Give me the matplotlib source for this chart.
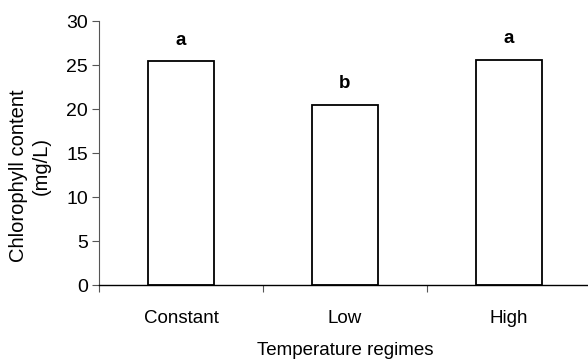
import matplotlib
matplotlib.use("Agg")
import matplotlib.pyplot as plt
import numpy as np

plt.rcParams['font.family'] = ['Liberation Sans', 'DejaVu Sans']

regimes = ["Constant", "Low", "High"]
chlorophyll = [25.45, 20.5, 25.6]
letters = ["a", "b", "a"]

W, H = 588, 362
fig = plt.figure(figsize=(W / 100, H / 100), dpi=100)
# axes spans x 99..591 px, y 21..285 px
ax = fig.add_axes([99 / W, 1 - 285 / H, 492 / W, 264 / H])

x = np.arange(len(regimes))
ax.bar(x, chlorophyll, width=0.4, color="white", edgecolor="black", linewidth=1.3)

for xi, val, lab in zip(x, chlorophyll, letters):
    ax.annotate(lab, (xi, val), xytext=(0, 9), textcoords="offset points",
                ha="center", va="bottom", fontsize=13.5, fontweight="bold")

ax.set_xlim(-0.5, 2.5)
ax.set_ylim(0, 30)
ax.set_yticks(np.arange(0, 31, 5))
ax.set_xticks(x)
ax.set_xticklabels(regimes)
ax.set_xticks([-0.5, 0.5, 1.5, 2.5], minor=True)
ax.tick_params(axis="x", which="major", length=0, pad=18, labelsize=13.5)
ax.tick_params(axis="x", which="minor", length=5, width=0.8, color="#555555")
ax.tick_params(axis="y", length=5, width=0.8, labelsize=14, pad=3, color="#555555")

ax.spines["top"].set_visible(False)
ax.spines["right"].set_visible(False)
ax.spines["left"].set_color("#555555")
ax.spines["bottom"].set_linewidth(1.0)

# y label as two lines, second one sits a bit higher like in the original
fig.text(18.5 / W, 1 - 176 / H, "Chlorophyll content", rotation=90,
         ha="center", va="center", fontsize=14.5)
fig.text(41.5 / W, 1 - 166 / H, "(mg/L)", rotation=90,
         ha="center", va="center", fontsize=14.5)
ax.set_xlabel("Temperature regimes", fontsize=13.5, labelpad=11)

fig.savefig("out.png", dpi=100)
